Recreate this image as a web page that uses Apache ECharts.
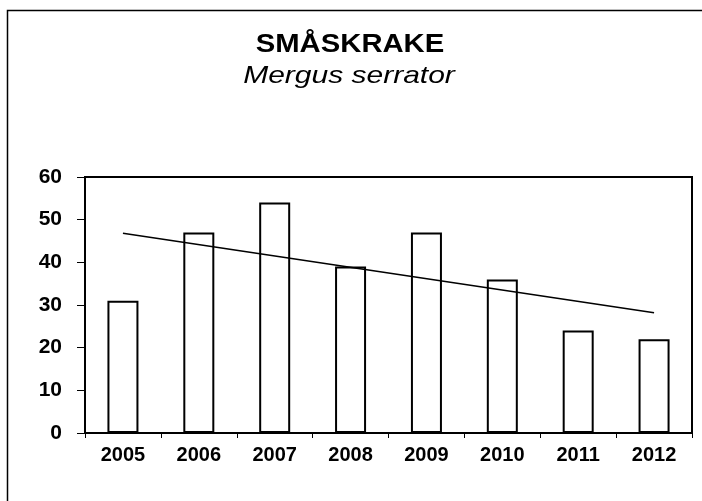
<!DOCTYPE html>
<html><head><meta charset="utf-8">
<script src="https://cdn.jsdelivr.net/npm/echarts@6/dist/echarts.min.js"></script>
<style>html,body{margin:0;padding:0;background:#fff}#c{width:702px;height:501px}</style>
</head><body><div id="c"></div>
<script>
const years = ['2005','2006','2007','2008','2009','2010','2011','2012'];
const counts = [31, 47, 54, 39, 47, 36, 24, 22];
const trend = [46.8, null, null, null, null, null, null, 28.2];
const yTicks = [0, 10, 20, 30, 40, 50, 60];
const titleText = 'SMÅSKRAKE';
const subtitleText = 'Mergus serrator';

const chart = echarts.init(document.getElementById('c'), null, {renderer:'canvas'});
chart.setOption({
  animation: false,
  backgroundColor: '#fff',
  graphic: [
    {type:'rect', shape:{x:7.5, y:10.5, width:760, height:560}, style:{fill:'none', stroke:'#000', lineWidth:1.5}, z:-1},
    {type:'text', x:350, y:45, scaleX:1.17, style:{text:titleText, font:'bold 25px "Liberation Sans"', fill:'#000', textAlign:'center', textVerticalAlign:'middle'}},
    {type:'text', x:349, y:76, scaleX:1.25, style:{text:subtitleText, font:'italic 24px "Liberation Sans"', fill:'#000', textAlign:'center', textVerticalAlign:'middle'}}
  ],
  grid: {left:85, right:10, top:177, bottom:68, show:true, borderColor:'#000', borderWidth:2, backgroundColor:'#fff'},
  xAxis: {type:'category', data:years, boundaryGap:true,
    axisLine:{lineStyle:{color:'#000', width:2}},
    axisTick:{show:true, length:5, lineStyle:{color:'#000', width:1}},
    axisLabel:{margin:12, color:'#000', fontFamily:'Liberation Sans', fontWeight:'bold', fontSize:20}},
  yAxis: {type:'value', min:yTicks[0], max:yTicks[yTicks.length-1], interval:10,
    splitLine:{show:false},
    axisLine:{show:true, lineStyle:{color:'#000', width:2}},
    axisTick:{show:true, length:8, lineStyle:{color:'#000', width:1}},
    axisLabel:{margin:23, color:'#000', fontFamily:'Liberation Sans', fontWeight:'bold', fontSize:21}},
  series: [
    {type:'bar', data:counts, barWidth:31, itemStyle:{color:'#fff', borderColor:'#000', borderWidth:2}},
    {type:'line', data:trend, connectNulls:true, symbol:'none', lineStyle:{color:'#000', width:1.5}, z:5}
  ]
});
</script></body></html>
